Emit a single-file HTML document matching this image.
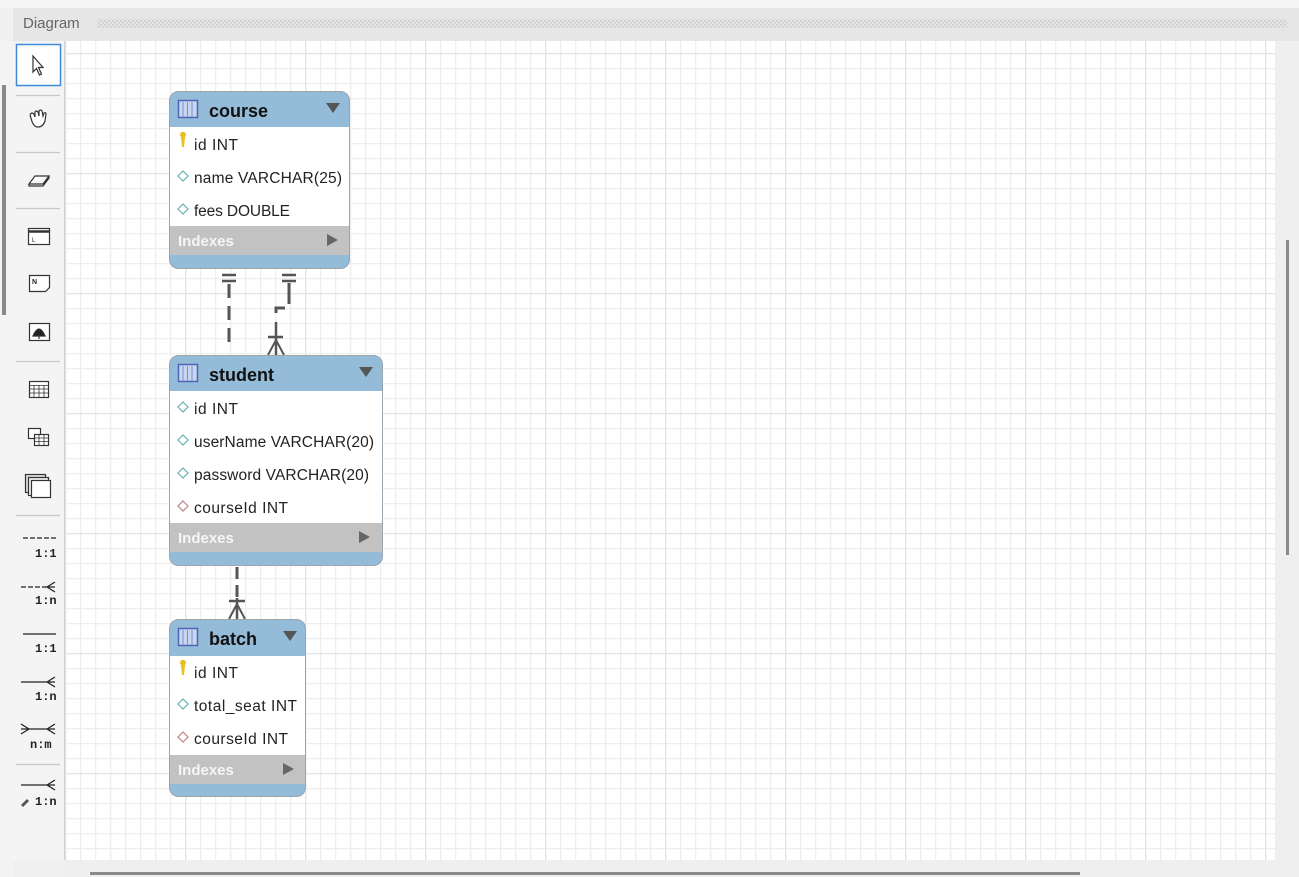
<!DOCTYPE html>
<html><head><meta charset="utf-8"><style>
html,body{margin:0;padding:0;background:#f0f0f0;}
svg{display:block;font-family:"Liberation Sans",sans-serif;}
</style></head><body>
<svg width="1299" height="877" viewBox="0 0 1299 877" xmlns="http://www.w3.org/2000/svg">
<defs>
<pattern id="minor" x="5" y="8" width="15" height="15" patternUnits="userSpaceOnUse">
<path d="M0 0.5H15M0.5 0V15" stroke="#eeeeee" stroke-width="1.5" fill="none"/>
</pattern>
<pattern id="major" x="65" y="53" width="120" height="120" patternUnits="userSpaceOnUse">
<path d="M0 0.5H120M0.5 0V120" stroke="#e3e3e3" stroke-width="1.5" fill="none"/>
</pattern>
<pattern id="dots" width="4" height="4" patternUnits="userSpaceOnUse">
<rect x="0" y="0" width="1.5" height="1.5" fill="#c4c4c4"/><rect x="2" y="2" width="1.5" height="1.5" fill="#c4c4c4"/>
</pattern>
</defs>
<rect width="1299" height="877" fill="#f0f0f0"/>
<rect x="0" y="0" width="1299" height="8" fill="#f5f5f5"/>
<rect x="13" y="8" width="1286" height="33" fill="#e6e6e6"/>
<text x="23" y="28" font-size="15" fill="#666">Diagram</text>
<rect x="97" y="19" width="1190" height="9" fill="url(#dots)"/>
<rect x="0" y="41" width="13" height="836" fill="#f3f3f3"/>
<rect x="2" y="85" width="4" height="230" fill="#8a8a8a"/>
<rect x="13" y="41" width="51" height="820" fill="#f4f4f5"/>
<line x1="64.5" y1="41" x2="64.5" y2="860" stroke="#d0d0d0"/>
<rect x="65" y="41" width="1210" height="819" fill="#fff"/>
<rect x="65" y="41" width="1210" height="819" fill="url(#minor)"/>
<rect x="65" y="41" width="1210" height="819" fill="url(#major)"/>
<rect x="1275" y="41" width="24" height="836" fill="#efefef"/>
<rect x="1286" y="240" width="3" height="315" fill="#8a8a8a"/>
<rect x="65" y="860" width="1234" height="17" fill="#efefef"/>
<rect x="90" y="872" width="990" height="3" fill="#8a8a8a"/>
<g stroke="#333" fill="none" stroke-width="1.2">
<rect x="16.5" y="44.5" width="44" height="41" stroke="#3c8ad8" stroke-width="1.5" fill="#fff"/>
<path d="M33 56 L33 72 L36.5 68.5 L39.5 75 L41.5 74 L38.5 67.5 L43 67.5 Z" fill="#fff"/>
<line x1="16" y1="95.5" x2="60" y2="95.5" stroke="#c8c8c8"/>
<path d="M31 118 q-2-4 1-5 q2 0 3 4 l0-5 q1-2 3 0 l1 4 l0-5 q2-2 3 0 l1 5 l1-3 q2-1 2 1 l-1 7 q-2 6-7 6 q-5 0-7-9z" fill="#fff"/>
<line x1="16" y1="152.5" x2="60" y2="152.5" stroke="#c8c8c8"/>
<path d="M29 184 l6-8 h14 l-6 8 z M29 184 v2 h14 l6-8 v-2" fill="#fff"/>
<line x1="16" y1="208.5" x2="60" y2="208.5" stroke="#c8c8c8"/>
<rect x="28.5" y="228.5" width="21" height="16" fill="#fff"/><path d="M28.5 231.5h21" stroke-width="2.5"/>
<text x="32" y="242" font-size="6" fill="#222" stroke="none">L</text>
<path d="M29.5 275.5 h20 v12 l-4 4 h-16 z" fill="#fff"/><text x="32" y="284" font-size="7" fill="#222" stroke="none" font-weight="bold">N</text>
<rect x="29.5" y="323.5" width="20" height="17" fill="#fff"/><path d="M33 336 q6-14 12 0 z M39 336 v3" fill="#222"/>
<line x1="16" y1="361.5" x2="60" y2="361.5" stroke="#c8c8c8"/>
<rect x="29.5" y="381.5" width="19" height="16" fill="#fff"/><path d="M29.5 385.5h19 M29.5 389h19 M29.5 393h19 M34 385v12 M39 385v12 M44 385v12" stroke-width="0.8"/>
<rect x="28.5" y="428.5" width="12" height="10" fill="#fff"/><rect x="34.5" y="434.5" width="14" height="11" fill="#fff"/><path d="M34.5 438h14 M34.5 441.5h14 M39 434v11 M44 434v11" stroke-width="0.8"/>
<rect x="25.5" y="474.5" width="20" height="18" fill="#ddd"/><rect x="28.5" y="477.5" width="20" height="18" fill="#eee"/><rect x="31.5" y="480.5" width="19" height="17" fill="#fff"/>
<line x1="16" y1="515.5" x2="60" y2="515.5" stroke="#c8c8c8"/>
<line x1="16" y1="764.5" x2="60" y2="764.5" stroke="#c8c8c8"/>
</g>
<g stroke="#222" stroke-width="1.3" fill="none">
<path d="M23 538h33" stroke-dasharray="5 2"/>
<path d="M21 587h22" stroke-dasharray="5 2"/><path d="M43 587h12 M47 587l8-5 M47 587l8 5"/>
<path d="M23 634h33"/>
<path d="M21 682h34 M47 682l8-5 M47 682l8 5"/>
<path d="M21 729h34 M21 724l8 5 M21 734l8-5 M47 729l8-5 M47 729l8 5"/>
<path d="M21 785h34 M47 785l8-5 M47 785l8 5"/>
<path d="M22 806l6-6" stroke-width="3" stroke="#555"/>
</g>
<g font-family="'Liberation Mono',monospace" font-size="12" fill="#222" font-weight="bold">
<text x="35" y="557">1:1</text><text x="35" y="604">1:n</text><text x="35" y="652">1:1</text>
<text x="35" y="700">1:n</text><text x="30" y="748">n:m</text><text x="35" y="805">1:n</text>
</g>
<g stroke="#555" stroke-width="3" fill="none">
<path d="M229 284 V350" stroke-dasharray="14 8"/>
<path d="M222 275h14 M222 281h14" stroke-width="2.5"/>
<path d="M289 283 V304"/>
<path d="M282 275h14 M282 281h14" stroke-width="2.5"/>
<path d="M276 313 V308 h9"/>
<path d="M276 322 V355 M268 337h15" stroke-width="2.5"/>
<path d="M276 340 L268 355 M276 340 L284 355 M276 340V355" stroke-width="2"/>
<path d="M237 567 V598" stroke-dasharray="12 6"/>
<path d="M237 598 V619 M229 601h16" stroke-width="2.5"/>
<path d="M237 604 L229 619 M237 604 L245 619" stroke-width="2"/>
</g>
<g>
<rect x="169.5" y="91.5" width="180" height="177" rx="9" fill="#94bcd8" stroke="#9aa5ae"/>
<rect x="170" y="127" width="179" height="99" fill="#fff"/>
<rect x="170" y="226" width="179" height="29" fill="#c2c2c2"/>
<rect x="178.5" y="100.5" width="19" height="17" fill="#c8d6f0" stroke="#4a64b8" stroke-width="1.5"/>
<path d="M183 102v15 M187.5 102v15 M192 102v15" stroke="#7a90d0"/>
<text x="209" y="117" font-size="18" font-weight="bold" fill="#111">course</text>
<path d="M326 103h14l-7 10z" fill="#555"/>
<g font-size="15.5" fill="#222">
<text x="194" y="150" textLength="44">id INT</text>
<text x="194" y="183" textLength="148">name VARCHAR(25)</text>
<text x="194" y="216" textLength="96">fees DOUBLE</text>
</g>
<path d="M181 137 a3 3 0 1 1 4 0 l-1 10 h-2z" fill="#e8c020"/>
<path d="M183 171l5 5-5 5-5-5z M183 204l5 5-5 5-5-5z" fill="#fff" stroke="#6cb0b0" stroke-width="1.2"/>
<text x="178" y="246" font-size="15" font-weight="bold" fill="#f6f6f6">Indexes</text>
<path d="M327 234l11 6-11 6z" fill="#666"/>
</g>
<g>
<rect x="169.5" y="355.5" width="213" height="210" rx="9" fill="#94bcd8" stroke="#9aa5ae"/>
<rect x="170" y="391" width="212" height="132" fill="#fff"/>
<rect x="170" y="523" width="212" height="29" fill="#c2c2c2"/>
<rect x="178.5" y="364.5" width="19" height="17" fill="#c8d6f0" stroke="#4a64b8" stroke-width="1.5"/>
<path d="M183 366v15 M187.5 366v15 M192 366v15" stroke="#7a90d0"/>
<text x="209" y="381" font-size="18" font-weight="bold" fill="#111">student</text>
<path d="M359 367h14l-7 10z" fill="#555"/>
<g font-size="15.5" fill="#222">
<text x="194" y="414" textLength="44">id INT</text>
<text x="194" y="447" textLength="180">userName VARCHAR(20)</text>
<text x="194" y="480" textLength="175">password VARCHAR(20)</text>
<text x="194" y="513" textLength="94">courseId INT</text>
</g>
<path d="M183 402l5 5-5 5-5-5z M183 435l5 5-5 5-5-5z M183 468l5 5-5 5-5-5z" fill="#fff" stroke="#6cb0b0" stroke-width="1.2"/>
<path d="M183 501l5 5-5 5-5-5z" fill="#fff" stroke="#c08080" stroke-width="1.2"/>
<text x="178" y="543" font-size="15" font-weight="bold" fill="#f6f6f6">Indexes</text>
<path d="M359 531l11 6-11 6z" fill="#666"/>
</g>
<g>
<rect x="169.5" y="619.5" width="136" height="177" rx="9" fill="#94bcd8" stroke="#9aa5ae"/>
<rect x="170" y="656" width="135" height="99" fill="#fff"/>
<rect x="170" y="755" width="135" height="29" fill="#c2c2c2"/>
<rect x="178.5" y="628.5" width="19" height="17" fill="#c8d6f0" stroke="#4a64b8" stroke-width="1.5"/>
<path d="M183 630v15 M187.5 630v15 M192 630v15" stroke="#7a90d0"/>
<text x="209" y="645" font-size="18" font-weight="bold" fill="#111">batch</text>
<path d="M283 631h14l-7 10z" fill="#555"/>
<g font-size="15.5" fill="#222">
<text x="194" y="678" textLength="44">id INT</text>
<text x="194" y="711" textLength="103">total_seat INT</text>
<text x="194" y="744" textLength="94">courseId INT</text>
</g>
<path d="M181 665 a3 3 0 1 1 4 0 l-1 10 h-2z" fill="#e8c020"/>
<path d="M183 699l5 5-5 5-5-5z" fill="#fff" stroke="#6cb0b0" stroke-width="1.2"/>
<path d="M183 732l5 5-5 5-5-5z" fill="#fff" stroke="#c08080" stroke-width="1.2"/>
<text x="178" y="775" font-size="15" font-weight="bold" fill="#f6f6f6">Indexes</text>
<path d="M283 763l11 6-11 6z" fill="#666"/>
</g>
</svg>
</body></html>
